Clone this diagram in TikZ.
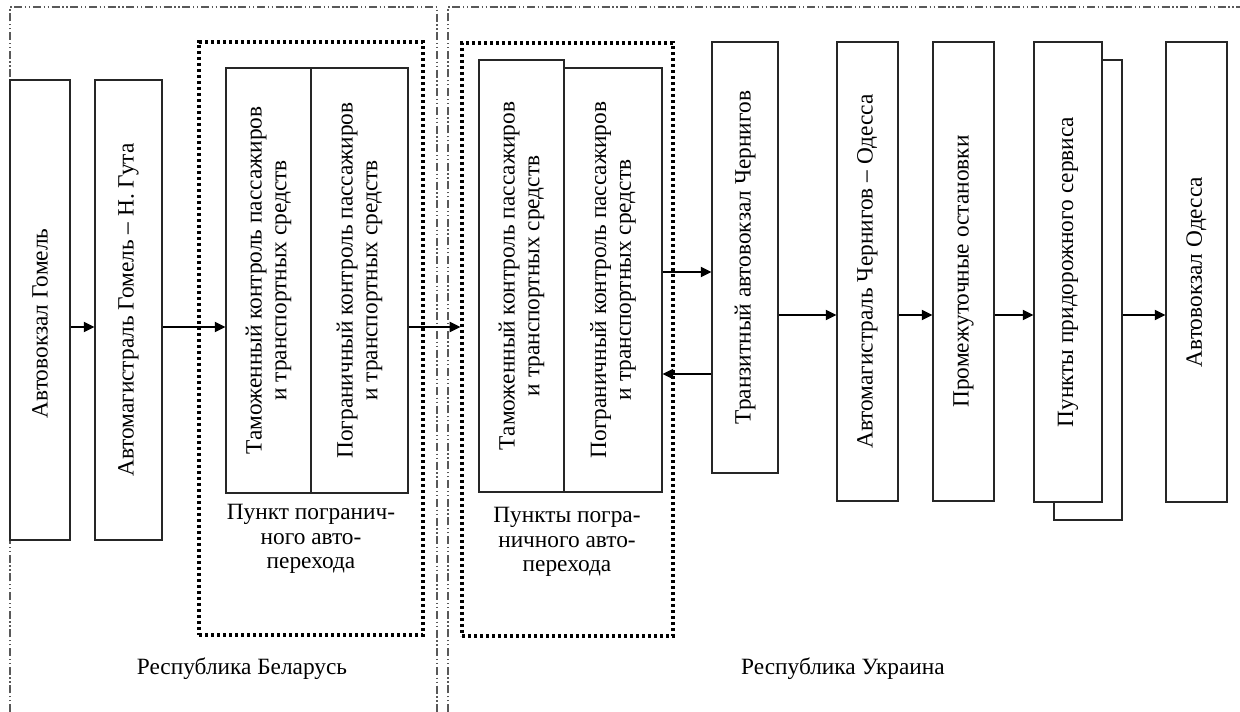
\documentclass[tikz,border=0pt]{standalone}
\usepackage{fontspec}
\setmainfont{Liberation Serif}
\usetikzlibrary{arrows.meta,fit}

\begin{document}
\begin{tikzpicture}[x=0.75pt,y=-0.75pt,
  every node/.style={font=\fontsize{17.5}{18.5}\selectfont},
  box/.style={draw=black!85, line width=0.8pt, fill=white, inner sep=0pt},
  region/.style={draw=black!65, line width=0.8pt,
    dash pattern=on 6pt off 2pt on 1pt off 2pt on 1pt off 2pt},
  crossing/.style={draw=black, line width=2.4pt, dash pattern=on 2.3pt off 2.2pt, inner sep=0pt},
  flow/.style={line width=1.5pt, -{Triangle[length=8pt,width=7.5pt]}},
  vtext/.style={rotate=90, align=center, inner sep=0pt},
  caption/.style={align=center, inner sep=0pt},
]
\fill[white] (0,0) rectangle (1240,712);
\useasboundingbox (0,0) rectangle (1240,712);

% country zones
\draw[region] (10,712) -- (10,7) -- (437,7) -- (437,712);
\draw[region] (448,712) -- (448,7) -- (1240,7);

% border crossing zones
\node[crossing, fit={(199,42) (423,635)}] (belPost) {};
\node[crossing, fit={(462,43) (673,636)}] (ukrPost) {};

% Belarus side
\node[box, fit={(10,80) (70,540)}] (gomel) {};
\node[box, fit={(95,80) (162,540)}] (guta) {};
\node[box, fit={(226,68) (311,493)}] (belCustoms) {};
\node[box, fit={(311,68) (408,493)}] (belGuard) {};

% Ukraine side
\node[box, fit={(564,68) (662,492)}] (ukrGuard) {};
\node[box, fit={(479,60) (564,492)}] (ukrCustoms) {};
\node[box, fit={(712,42) (778,473)}] (transit) {};
\node[box, fit={(837,42) (898,501)}] (highway) {};
\node[box, fit={(933,42) (994,501)}] (stops) {};
\node[box, fit={(1054,60) (1122,520)}] (serviceBack) {};
\node[box, fit={(1034,42) (1102,502)}] (service) {};
\node[box, fit={(1166,42) (1227,502)}] (odessa) {};

% box texts
\node[vtext] at ([yshift=-10]gomel.center) {Автовокзал Гомель};
\node[vtext] at (guta.center) {Автомагистраль Гомель – Н.~Гута};
\node[vtext] at (belCustoms.center) {Таможенный контроль пассажиров\\и транспортных средств};
\node[vtext] at (belGuard.center) {Пограничный контроль пассажиров\\и транспортных средств};
\node[vtext] at (ukrCustoms.center) {Таможенный контроль пассажиров\\и транспортных средств};
\node[vtext] at (ukrGuard.center) {Пограничный контроль пассажиров\\и транспортных средств};
\node[vtext] at (transit.center) {Транзитный автовокзал Чернигов};
\node[vtext] at (highway.center) {Автомагистраль Чернигов – Одесса};
\node[vtext] at (stops.center) {Промежуточные остановки};
\node[vtext] at (service.center) {Пункты придорожного сервиса};
\node[vtext] at (odessa.center) {Автовокзал Одесса};

% captions
\node[caption, anchor=north] (belCap) at (311,504) {Пункт погранич-\\ного авто-\\перехода};
\node[caption, anchor=north] (ukrCap) at (567,507) {Пункты погра-\\ничного авто-\\перехода};
\node[anchor=base] (belarus) at (242,675) {Республика Беларусь};
\node[anchor=base] (ukraine) at (843,675) {Республика Украина};

% flow rows
\coordinate (rowA) at (0,327);
\coordinate (rowB) at (0,272);
\coordinate (rowC) at (0,374);
\coordinate (rowD) at (0,315);

\draw[flow] (gomel.east |- rowA) -- (guta.west |- rowA);
\draw[flow] (guta.east |- rowA) -- (belCustoms.west |- rowA);
\draw[flow] (belGuard.east |- rowA) -- (ukrPost.west |- rowA);
\draw[flow] (ukrGuard.east |- rowB) -- (transit.west |- rowB);
\draw[flow] (transit.west |- rowC) -- (ukrGuard.east |- rowC);
\draw[flow] (transit.east |- rowD) -- (highway.west |- rowD);
\draw[flow] (highway.east |- rowD) -- (stops.west |- rowD);
\draw[flow] (stops.east |- rowD) -- (service.west |- rowD);
\draw[flow] (serviceBack.east |- rowD) -- (odessa.west |- rowD);
\end{tikzpicture}
\end{document}
